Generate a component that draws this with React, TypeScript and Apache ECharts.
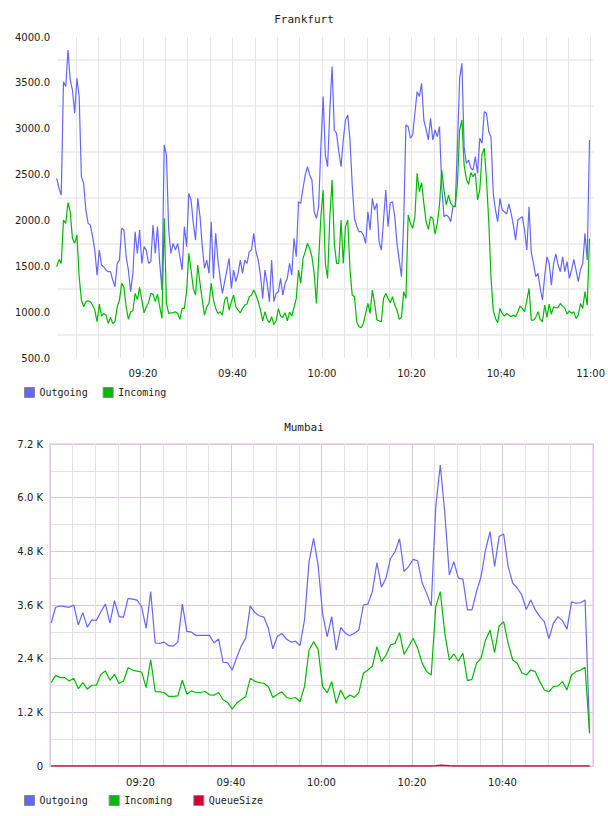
import React, { useEffect, useRef } from "react";
import * as echarts from "echarts";

// ---------- Frankfurt (samples every 30 s, first sample 09:00:45) ----------
const frankfurtStartMin = 0.75; // minutes after 09:00
const frankfurtStepMin = 0.5;
const frankfurtOutgoing = [
  2459, 2350, 2277, 3513, 3459, 3859, 3532, 3422, 3168, 3550,
  3350, 2477, 2404, 2114, 1968, 1950, 1823, 1677, 1404, 1677,
  1514, 1495, 1459, 1441, 1441, 1350, 1277, 1532, 1568, 1914,
  1895, 1604, 1459, 1223, 1423, 1877, 1641, 1895, 1532, 1714,
  1677, 1532, 1550, 1950, 1641, 1932, 1532, 1241, 2823, 2713,
  1895, 1641, 1750, 1677, 1750, 1604, 1459, 1932, 1714, 2295,
  2223, 1968,
  1786, 2241, 2041, 1714, 1477, 1568, 1423, 1986, 1368, 1859,
  1568, 1368, 1204, 1332, 1459, 1586, 1259, 1459, 1332, 1423,
  1568, 1423, 1568, 1532, 1659, 1677, 1859, 1659, 1568, 1404,
  1150, 1459, 1314, 1114, 1568, 1114, 1204, 1223, 1368, 1186,
  1314, 1368, 1532, 1404, 1804, 1604, 2204, 2186, 2350, 2495,
  2586, 2495, 2441, 2095, 2023, 2150, 2805, 3350, 2713, 2586,
  3204, 3677, 2986, 2950, 2750, 2586, 2877, 3095, 3150, 2877,
  2386, 2023, 1939, 1877, 1877, 1841, 1750, 2095, 1895, 2241,
  2114, 2186, 1768, 1677, 2004, 2332, 1932, 2193, 2204, 2041,
  1750, 1568, 1386, 1986, 3041, 3023, 2896, 2932, 3168, 3404,
  3350, 3495, 3095, 2993, 2877, 3113, 2877, 2986, 2913, 3023,
  2368, 2041, 2059, 2041, 1986, 2150, 2150, 2805, 3550, 3713,
  2800, 2623, 2659, 2568, 2550, 2695, 2514, 2896, 2841, 3186,
  3168, 2968, 2913, 2295, 2114, 1986, 2241, 2114, 2095, 2070,
  2180, 2077, 1950, 1786, 2004, 2023, 2041, 1895, 1677, 2150,
  1648, 1532, 1386, 1423, 1259, 1132, 1394, 1604, 1532, 1295,
  1532, 1634, 1514, 1441, 1604, 1441, 1550, 1368, 1459, 1575,
  1459, 1332, 1466, 1532, 1859, 1568, 2877,
];
const frankfurtIncoming = [
  1495, 1575, 1532, 2004, 1968, 2193, 2095, 1804, 1750, 1841,
  1386, 1132, 1059, 1114, 1125, 1114, 1077, 1022, 895, 1088,
  957, 986, 968, 877, 943, 877, 895, 1059, 1132, 1314,
  1270, 1059, 921, 1004, 1015, 1204, 1139, 1270, 1132, 993,
  1059, 1103, 1204, 1197, 1114, 1197, 1059, 932, 2023, 1095,
  986, 993, 993, 1004, 986, 921, 1041, 1041, 1223, 1641,
  1459, 1259,
  1186, 1514, 1314, 1132, 968, 1059, 1095, 1314, 1132, 1041,
  986, 1004, 968, 1132, 1168, 1022, 1114, 1186, 1059, 1022,
  993, 1041, 1077, 1088, 1168, 1186, 1241, 1186, 1114, 1022,
  906, 1004, 921, 884, 950, 863, 906, 1037, 957, 943,
  993, 906, 1001, 957, 1052, 1150, 1459, 1314, 1586, 1659,
  1750, 1695, 1604, 1423, 1095, 1568, 2041, 2332, 1532, 1368,
  2041, 2441, 1750, 1532, 1532, 2004, 1532, 1932, 2004, 1459,
  1186, 1168, 895, 841, 830, 877, 986, 1095, 986, 1241,
  1095, 914, 906, 895, 1150, 1204, 1150, 1103, 1168, 1077,
  1022, 921, 943, 1223, 1150, 2059, 1968, 1914, 2041, 2514,
  2313, 2412, 2186, 1986, 1903, 2041, 2023, 1852, 1968, 2168,
  2550, 2332, 2168, 2277, 2186, 2157, 2150, 2404, 2986, 3095,
  2600, 2448, 2393, 2521, 2477, 2514, 2223, 2332, 2725, 2786,
  2441, 1986, 1386, 1022, 932, 884, 1041, 986, 957, 986,
  968, 950, 968, 950, 1004, 1066, 1041, 1004, 1125, 1259,
  914, 914, 943, 1004, 921, 895, 1077, 943, 1088, 979,
  1059, 1048, 1052, 1095, 1066, 1041, 979, 1015, 986, 1004,
  932, 968, 1095, 1041, 1223, 1077, 1804,
];
const frankfurtGridMinutes = [5, 10, 15, 20, 25, 30, 35, 40, 45, 50, 55, 60, 65, 70, 75, 80, 85, 90, 95, 100, 105, 110, 115, 120];
const frankfurtLabelMinutes = [20, 40, 60, 80, 100, 120];

// ---------- Mumbai (samples every minute, first sample 09:00:15) ----------
const mumbaiStartMin = 0.25;
const mumbaiStepMin = 1;
const mumbaiOutgoing = [
  3194, 3549, 3578, 3563, 3549, 3600, 3157, 3430, 3105, 3268,
  3253, 3452, 3622, 3194, 3696, 3342, 3327, 3750, 3730, 3710,
  3560, 3080, 3900, 2750, 2740, 2770, 2690, 2680, 2770, 3620,
  3010, 2995, 2920, 2920, 2920, 2920, 2750, 2840, 2320, 2310,
  2140, 2420, 2680, 2860, 3580, 3430, 3360, 3330, 3080, 2620,
  2900, 2960, 2840, 2770, 2790, 2690, 3270,
  4570, 5090, 4490, 3400, 2890, 3340, 2590, 3100, 2970, 2910,
  2970, 3040, 3600, 3620, 3900, 4550, 4000, 4200, 4640, 4790,
  5080, 4350, 4460, 4620, 4590, 4090, 3860, 3580, 5800, 6730,
  5650, 4270, 4570, 4200, 4180, 3490, 3490, 3900, 4230, 4830,
  5240, 4460, 5130, 5190, 4460, 4090, 3980, 3830, 3500, 3710,
  3490, 3340, 3230, 2850, 3190, 3340, 3250, 3060, 3670, 3640,
  3650, 3710, 750,
];
const mumbaiIncoming = [
  1865, 2027, 1976, 1976, 1902, 1961, 1732, 1865, 1717, 1806,
  1806, 2050, 2123, 1917, 2050, 1843, 1902, 2197, 2145, 2123,
  2101, 1754, 2382, 1665, 1658, 1643, 1555, 1555, 1569, 1917,
  1606, 1680, 1643, 1643, 1665, 1592, 1584, 1643, 1481, 1422,
  1274, 1407, 1481, 1555, 1961, 1894, 1865, 1850, 1776, 1532,
  1606, 1658, 1532, 1510, 1532, 1436, 1780,
  2594, 2780, 2609, 1774, 1640, 1886, 1401, 1700, 1498, 1588,
  1535, 1640, 2072, 2147, 2236, 2668, 2333, 2482, 2706, 2743,
  2982, 2497, 2668, 2855, 2631, 2296, 2110, 2035, 3560, 3900,
  2966, 2370, 2504, 2348, 2519, 1908, 1938, 2296, 2408, 2818,
  3041, 2534, 3131, 3227, 2743, 2370, 2296, 2087, 2035, 2147,
  2110, 1886, 1700, 1662, 1774, 1789, 1886, 1700, 2035, 2110,
  2147, 2206, 730,
];
const mumbaiQueueSize = [
  0, 0, 0, 0, 0, 0, 0, 0, 0, 0,
  0, 0, 0, 0, 0, 0, 0, 0, 0, 0,
  0, 0, 0, 0, 0, 0, 0, 0, 0, 0,
  0, 0, 0, 0, 0, 0, 0, 0, 0, 0,
  0, 0, 0, 0, 0, 0, 0, 0, 0, 0,
  0, 0, 0, 0, 0, 0, 0, 0, 0, 0,
  0, 0, 0, 0, 0, 0, 0, 0, 0, 0,
  0, 0, 0, 0, 0, 0, 0, 0, 0, 0,
  0, 0, 0, 0, 0, 5, 15, 12, 4, 0,
  0, 0, 0, 0, 0, 0, 0, 0, 0, 0,
  0, 0, 0, 0, 0, 0, 0, 0, 0, 0,
  0, 0, 0, 0, 0, 0, 0, 0, 0, 0,
];

const BLUE = "#6666ff";
const GREEN = "#00bb00";
const RED = "#cc0033";
const LABEL_FONT = "DejaVu Sans";
const MONO_FONT = "DejaVu Sans Mono";

function hhmm(m: number): string {
  const h = 9 + Math.floor(m / 60);
  const mm = Math.round(m % 60);
  return String(h).padStart(2, "0") + ":" + String(mm).padStart(2, "0");
}

function pairs(values: number[], start: number, step: number) {
  return values.map((v, i) => [start + i * step, v]);
}

export default function App() {
  const ref = useRef<HTMLDivElement>(null);

  useEffect(() => {
    if (!ref.current) return;
    const chart = echarts.init(ref.current, undefined, { renderer: "svg" });

    const axisLabelBase = {
      fontFamily: LABEL_FONT,
      fontSize: 10,
      color: "#222",
    };

    const option: any = {
      animation: false,
      backgroundColor: "#ffffff",
      title: [
        {
          text: "Frankfurt",
          left: "center",
          top: 14,
          padding: 0,
          textStyle: { fontFamily: MONO_FONT, fontSize: 11, fontWeight: "normal", color: "#222" },
        },
        {
          text: "Mumbai",
          left: "center",
          top: 422,
          padding: 0,
          textStyle: { fontFamily: MONO_FONT, fontSize: 11, fontWeight: "normal", color: "#222" },
        },
      ],
      legend: [
        {
          top: 387,
          left: 24,
          padding: 0,
          itemWidth: 10,
          itemHeight: 10,
          itemGap: 15,
          icon: "rect",
          selectedMode: false,
          data: ["Outgoing", "Incoming"],
          itemStyle: { borderColor: "#888", borderWidth: 1 },
          textStyle: { fontFamily: MONO_FONT, fontSize: 10, color: "#222" },
        },
        {
          top: 795,
          left: 24,
          padding: 0,
          itemWidth: 10,
          itemHeight: 10,
          itemGap: 21,
          icon: "rect",
          selectedMode: false,
          data: ["Outgoing", "Incoming", "QueueSize"],
          itemStyle: { borderColor: "#888", borderWidth: 1 },
          textStyle: { fontFamily: MONO_FONT, fontSize: 10, color: "#222" },
        },
      ],
      grid: [
        { left: 57, top: 37, width: 537, height: 321, containLabel: false },
        {
          left: 50,
          top: 444,
          width: 543,
          height: 322,
          containLabel: false,
          show: true,
          borderColor: "#eddfed",
          borderWidth: 2,
        },
      ],
      xAxis: [
        {
          type: "value",
          gridIndex: 0,
          min: 0.8,
          max: 120.67,
          axisLine: { show: false },
          axisTick: { show: false, customValues: frankfurtGridMinutes },
          axisLabel: {
            ...axisLabelBase,
            customValues: frankfurtLabelMinutes,
            margin: 10,
            formatter: (v: number) => hhmm(v),
          },
          splitLine: { show: true, lineStyle: { color: "#e6e6e6", width: 1 } },
        },
        {
          type: "value",
          gridIndex: 1,
          min: 0,
          max: 120,
          interval: 5,
          axisLine: { show: false },
          axisTick: { show: false },
          axisLabel: {
            ...axisLabelBase,
            margin: 11,
            showMinLabel: false,
            showMaxLabel: false,
            formatter: (v: number) => (v > 0 && v < 120 && v % 20 === 0 ? hhmm(v) : ""),
          },
          splitLine: {
            show: true,
            lineStyle: { color: ["#dfc6df", "#e2e2e2", "#e2e2e2", "#e2e2e2"], width: 1 },
          },
        },
      ],
      yAxis: [
        {
          type: "value",
          gridIndex: 0,
          min: 500,
          max: 4000,
          interval: 250,
          axisLine: { show: false },
          axisTick: { show: false },
          axisLabel: {
            ...axisLabelBase,
            margin: 7,
            formatter: (v: number) => (v % 500 === 0 ? v.toFixed(1) : ""),
          },
          splitLine: { show: true, lineStyle: { color: ["rgba(0,0,0,0)", "#efefef"], width: 2 } },
        },
        {
          type: "value",
          gridIndex: 1,
          min: 0,
          max: 7200,
          interval: 600,
          axisLine: { show: false },
          axisTick: { show: false },
          axisLabel: {
            ...axisLabelBase,
            margin: 7,
            formatter: (v: number) =>
              v === 0 ? "0" : v % 1200 === 0 ? (v / 1000).toFixed(1) + " K" : "",
          },
          splitLine: { show: true, lineStyle: { color: ["#dfc6df", "#e2e2e2"], width: 1 } },
        },
      ],
      series: [
        {
          name: "Outgoing",
          type: "line",
          xAxisIndex: 0,
          yAxisIndex: 0,
          showSymbol: false,
          color: BLUE,
          lineStyle: { color: BLUE, width: 1.2 },
          data: pairs(frankfurtOutgoing, frankfurtStartMin, frankfurtStepMin),
        },
        {
          name: "Incoming",
          type: "line",
          xAxisIndex: 0,
          yAxisIndex: 0,
          showSymbol: false,
          color: GREEN,
          lineStyle: { color: GREEN, width: 1.2 },
          data: pairs(frankfurtIncoming, frankfurtStartMin, frankfurtStepMin),
        },
        {
          name: "Outgoing",
          type: "line",
          xAxisIndex: 1,
          yAxisIndex: 1,
          showSymbol: false,
          color: BLUE,
          lineStyle: { color: BLUE, width: 1.2 },
          data: pairs(mumbaiOutgoing, mumbaiStartMin, mumbaiStepMin),
        },
        {
          name: "Incoming",
          type: "line",
          xAxisIndex: 1,
          yAxisIndex: 1,
          showSymbol: false,
          color: GREEN,
          lineStyle: { color: GREEN, width: 1.2 },
          data: pairs(mumbaiIncoming, mumbaiStartMin, mumbaiStepMin),
        },
        {
          name: "QueueSize",
          type: "line",
          xAxisIndex: 1,
          yAxisIndex: 1,
          showSymbol: false,
          color: RED,
          lineStyle: { color: RED, width: 1.5 },
          data: pairs(mumbaiQueueSize, mumbaiStartMin, mumbaiStepMin),
        },
      ],
    };

    chart.setOption(option);
    return () => {
      chart.dispose();
    };
  }, []);

  return (
    <div
      ref={ref}
      style={{ position: "absolute", left: 0, top: 0, width: 608, height: 816, background: "#fff" }}
    />
  );
}
